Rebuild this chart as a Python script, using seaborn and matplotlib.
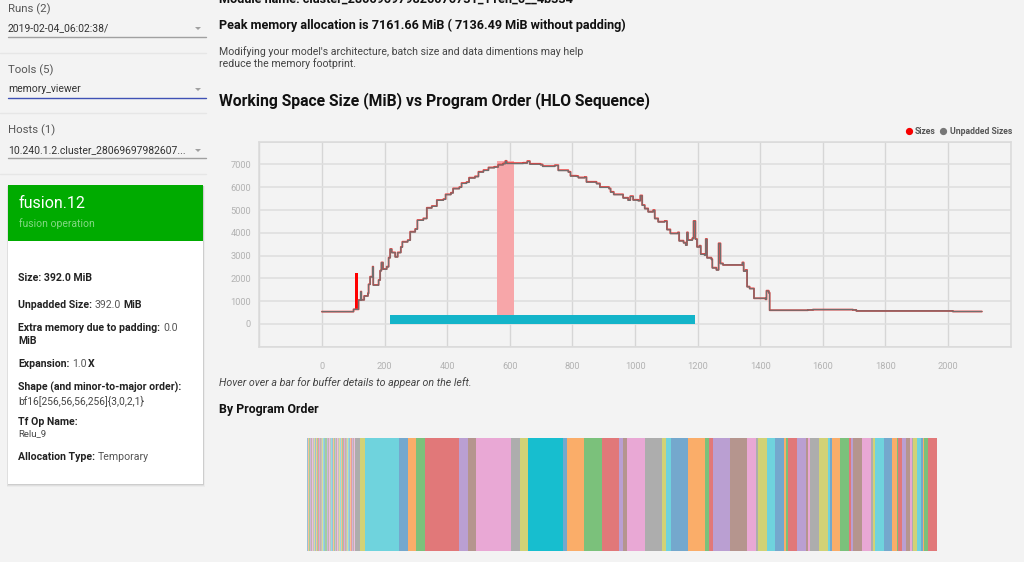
import matplotlib
matplotlib.use("Agg")
import matplotlib.pyplot as plt
from matplotlib.lines import Line2D
from matplotlib.patches import Rectangle, Polygon
import numpy as np
import pandas as pd
import seaborn as sns

# ----------------------------------------------------------
# DATA
# ----------------------------------------------------------
program_order = [
    0, 98, 101, 112, 117, 124, 126, 135, 147, 149, 154, 162,
    164, 181, 186, 190, 195, 207, 213, 218, 223, 234, 242, 252,
    257, 274, 282, 298, 305, 324, 335, 351, 367, 388, 395, 412,
    419, 439, 446, 462, 470, 489, 500, 516, 532, 551, 563, 579,
    586, 590, 643, 656, 664, 698, 705, 744, 755, 787, 794, 813,
    819, 840, 845, 877, 888, 917, 922, 932, 957, 962, 978, 985,
    994, 1010, 1017, 1023, 1031, 1042, 1058, 1063, 1074, 1095, 1102, 1113,
    1137, 1141, 1155, 1162, 1166, 1169, 1183, 1187, 1193, 1198, 1206, 1210,
    1222, 1226, 1230, 1244, 1247, 1260, 1267, 1273, 1281, 1339, 1343, 1347,
    1353, 1358, 1366, 1380, 1417, 1420, 1427, 1430, 1552, 1568, 1696, 1707,
    1930, 2015, 2108,
]
sizes = [
    540, 540, 640, 640, 1050, 1420, 1060, 1230, 1345, 1740, 2075, 2515,
    1710, 1930, 2340, 2700, 2410, 2515, 2910, 3290, 3140, 2950, 3140, 3380,
    3610, 3680, 4050, 4170, 4560, 4635, 5100, 5175, 5440, 5480, 5690, 5760,
    5950, 6010, 6185, 6230, 6420, 6480, 6680, 6755, 6870, 6900, 7000, 7050,
    7161, 7060, 7075, 7150, 7030, 7000, 6930, 6970, 6750, 6680, 6505, 6490,
    6430, 6450, 6240, 6170, 6010, 5950, 5800, 5690, 5690, 5540, 5440, 5610,
    5450, 5420, 5640, 5220, 5070, 4930, 5000, 4635, 4490, 4520, 4150, 3980,
    4020, 3655, 3570, 3465, 4020, 3685, 3760, 4520, 3730, 3390, 3435, 3070,
    3030, 3730, 2910, 2840, 2470, 2380, 3540, 2660, 2590, 2590, 2700, 2325,
    2370, 1640, 1560, 1125, 1080, 1460, 1375, 600, 614, 630, 614, 570,
    570, 545, 545,
]
unpadded_sizes = [
    540, 540, 640, 640, 1040, 1410, 1050, 1220, 1335, 1730, 2062, 2500,
    1698, 1918, 2328, 2688, 2398, 2500, 2895, 3275, 3125, 2935, 3125, 3365,
    3595, 3665, 4035, 4155, 4545, 4620, 5085, 5160, 5425, 5465, 5672, 5742,
    5932, 5992, 6165, 6210, 6400, 6460, 6660, 6735, 6850, 6880, 6978, 7028,
    7136, 7038, 7052, 7128, 7008, 6980, 6910, 6950, 6730, 6660, 6485, 6470,
    6410, 6430, 6220, 6150, 5990, 5930, 5780, 5672, 5672, 5522, 5422, 5592,
    5432, 5402, 5622, 5202, 5052, 4912, 4982, 4618, 4472, 4502, 4132, 3962,
    4002, 3638, 3552, 3448, 4002, 3668, 3742, 4502, 3712, 3372, 3418, 3052,
    3012, 3712, 2892, 2822, 2452, 2362, 3522, 2642, 2590, 2590, 2682, 2308,
    2352, 1625, 1545, 1125, 1080, 1445, 1360, 600, 614, 630, 614, 570,
    570, 545, 545,
]
x_ticks = list(range(-200, 2400, 200))
y_ticks = list(range(-1000, 9000, 1000))

# highlighted buffer (start, end, low, high)
fusion_buffer = [219, 1191, 0, 392]
peak_buffer = [560, 612, 392, 7150]
spike_buffer = [105, 116, 640, 2220]

# widths of the buffers by program order, colours follow tab10 in order
thin_widths = [
    0.7, 1.1, 0.8, 0.6, 1.0, 0.9, 0.7, 1.2, 0.8, 0.6,
    1.0, 0.7, 0.9, 0.8, 1.1, 0.6, 0.8, 1.0, 0.7, 0.9,
    0.8, 0.6, 1.2, 0.9, 0.7, 0.8, 1.0, 0.6, 0.9, 0.8,
    1.1, 0.7, 0.8, 0.6, 1.0, 0.9, 0.7, 0.8, 1.1, 0.6,
    0.9, 0.8, 0.7, 1.0, 0.8, 0.9, 0.6, 1.1, 0.7, 0.8,
    1.0, 0.9, 0.7, 0.8, 0.9, 1.0, 1.0,
]
wide_widths = [
    4.7, 4.7,
    34.3, 8.7, 8.7, 8.7, 34.3, 8.7, 8.3, 34.7, 8.7, 8.7,
    34.3, 4.3, 17.3, 17.3, 17.0, 4.7, 4.0, 17.3, 17.0, 4.7,
    4.3, 17.0, 17.0, 4.3, 4.0, 17.3, 17.0, 8.7, 2.3, 8.3,
    8.7, 8.7, 2.3, 2.0, 8.7, 8.7, 2.0, 2.3, 8.3, 9.0,
    2.0, 2.0, 8.7, 8.7, 2.3, 2.0, 8.3, 9.0, 2.0, 2.3,
    8.7, 8.7, 4.3, 1.0, 4.0, 4.3, 4.3, 2.0, 1.0, 4.0,
    4.3, 2.0, 0.5, 4.3, 8.7,
]
highlight_index = 69

# ----------------------------------------------------------
# PAGE
# ----------------------------------------------------------
sns.set_style("whitegrid")
plt.rcParams["font.family"] = ["Roboto", "DejaVu Sans"]
bg = "#f3f3f3"
W, H = 1024, 562

fig = plt.figure(figsize=(W / 100, H / 100), dpi=100, facecolor=bg)
page = fig.add_axes([0, 0, 1, 1], zorder=0)
page.set_xlim(0, W)
page.set_ylim(H, 0)
page.axis("off")


def rect(x0, y0, x1, y1, color, **kw):
    page.add_patch(Rectangle((x0, y0), x1 - x0, y1 - y0, facecolor=color, edgecolor="none", lw=0, **kw))


def label(x, y, s, size=8, color="#444444", weight="normal", **kw):
    return page.text(x, y, s, fontsize=size, color=color, weight=weight, va="center", **kw)


def mixed(x, y, parts, size=7.6):
    # bold and regular runs on one line
    for s, weight in parts:
        color = "#222222" if weight == "bold" else "#555555"
        t = label(x, y, s, size=size, color=color, weight=weight)
        x = t.get_window_extent(fig.canvas.get_renderer()).x1 + 2.4


# sidebar selectors
selectors = [
    ("Runs (2)", "2019-02-04_06:02:38/", 9, 28, 37, "#a0a0a0", 53),
    ("Tools (5)", "memory_viewer", 70, 89, 97.5, "#3f51b5", 113),
    ("Hosts (1)", "10.240.1.2.cluster_28069697982607...", 130, 150, 158, "#a0a0a0", 174),
]
for title, value, y0, y1, y_line, line_color, y_div in selectors:
    label(8, y0, title, size=8.2, color="#555555")
    label(8, y1, value, size=7.5, color="#333333")
    page.plot([8, 206], [y_line, y_line], color=line_color, lw=1.0)
    page.plot([0, 206], [y_div, y_div], color="#e6e6e6", lw=1.0)
    page.add_patch(Polygon([[195, y1 - 1], [201, y1 - 1], [198, y1 + 2]], color="#a0a0a0", lw=0))

# detail card
for grow, alpha in [(3, 0.03), (2, 0.05), (1, 0.08)]:
    rect(8 - grow * 0.5, 186, 203 + grow * 0.5, 484 + grow, "black", alpha=alpha)
rect(8, 185, 203, 484, "white")
rect(8, 185, 203, 241, "#00ab00")
label(19, 204, "fusion.12", size=11.5, color="white")
label(19, 224, "fusion operation", size=7.5, color="#83d883")

mixed(18.5, 278, [("Size: 392.0 MiB", "bold")])
mixed(18.5, 305, [("Unpadded Size:", "bold"), ("392.0", "normal"), ("MiB", "bold")])
mixed(18.5, 328, [("Extra memory due to padding:", "bold"), ("0.0", "normal")])
mixed(18.5, 341, [("MiB", "bold")])
mixed(18.5, 364, [("Expansion:", "bold"), ("1.0", "normal")])
label(88, 364, "X", size=7.6, color="#222222", weight="bold")
mixed(18.5, 387, [("Shape (and minor-to-major order):", "bold")])
label(18.5, 401, "bf16[256,56,56,256]{3,0,2,1}", size=7.4, color="#444444")
mixed(18.5, 422, [("Tf Op Name:", "bold")])
label(18.5, 434, "Relu_9", size=6.8, color="#444444")
mixed(18.5, 457, [("Allocation Type:", "bold"), ("Temporary", "normal")])

# main column text
label(219, -1, "Module name: cluster_280696979826076731_11en_0__4b334", size=9.07, color="#111111", weight="bold")
label(219, 25, "Peak memory allocation is 7161.66 MiB ( 7136.49 MiB without padding)", size=9.07, color="#111111", weight="bold")
label(219, 52, "Modifying your model's architecture, batch size and data dimentions may help", size=7.6, color="#444444")
label(219, 64, "reduce the memory footprint.", size=7.6, color="#444444")
label(219, 101, "Working Space Size (MiB) vs Program Order (HLO Sequence)", size=11.3, color="#111111", weight="bold")
label(219, 383, "Hover over a bar for buffer details to appear on the left.", size=7.7, color="#444444", style="italic")
label(219, 409, "By Program Order", size=8.9, color="#111111", weight="bold")

# ----------------------------------------------------------
# WORKING SPACE CHART
# ----------------------------------------------------------
ax = fig.add_axes([259.3 / W, 1 - 346.7 / H, (1010.7 - 259.3) / W, (346.7 - 141.7) / H], zorder=1)
ax.patch.set_alpha(0)

df = pd.DataFrame({"order": program_order, "sizes": sizes, "unpadded": unpadded_sizes})

ax.bar(fusion_buffer[0], fusion_buffer[3] - fusion_buffer[2], width=fusion_buffer[1] - fusion_buffer[0],
       bottom=fusion_buffer[2], align="edge", color="#13b4c9", lw=0, zorder=2)
ax.bar(peak_buffer[0], peak_buffer[3] - peak_buffer[2], width=peak_buffer[1] - peak_buffer[0],
       bottom=peak_buffer[2], align="edge", color="#f7a6a9", lw=0, zorder=2)
ax.bar(spike_buffer[0], spike_buffer[3] - spike_buffer[2], width=spike_buffer[1] - spike_buffer[0],
       bottom=spike_buffer[2], align="edge", color="#ff0000", lw=0, zorder=3)

sns.lineplot(data=df, x="order", y="sizes", ax=ax, color="#e8403f", lw=1.3, estimator=None,
             drawstyle="steps-post", snap=False, zorder=4)
sns.lineplot(data=df, x="order", y="unpadded", ax=ax, color="#6f6f6f", lw=0.85, estimator=None,
             drawstyle="steps-post", snap=False, zorder=5)

ax.set_xlim(-200, 2200)
ax.set_ylim(-1000, 8000)
ax.set_xticks(x_ticks)
ax.set_yticks(y_ticks)
ax.set_xticklabels(["" if v in (-200, 2200) else str(v) for v in x_ticks])
ax.set_yticklabels(["" if v in (-1000, 8000) else str(v) for v in y_ticks])
ax.set_xlabel("")
ax.set_ylabel("")
ax.grid(True, axis="y", color="#dedede", lw=1.1)
ax.grid(True, axis="x", color="#d6d6d6", lw=1.0)
ax.set_axisbelow(True)
ax.tick_params(axis="both", length=3, width=1.0, color="#d6d6d6", labelcolor="#b2b2b2", labelsize=6.7)
ax.tick_params(axis="y", length=0, pad=6)
ax.tick_params(axis="x", pad=8)
for name, spine in ax.spines.items():
    spine.set_color("#dadada")
    spine.set_linewidth(1.1)

handles = [
    Line2D([], [], ls="", marker="o", ms=4.2, color="#f70000", label="Sizes"),
    Line2D([], [], ls="", marker="o", ms=4.2, color="#777777", label="Unpadded Sizes"),
]
ax.legend(handles=handles, ncol=2, frameon=False, loc="lower right", bbox_to_anchor=(1.002, 1.027),
          borderaxespad=0, borderpad=0, handlelength=0.8, handletextpad=0.35, columnspacing=0.45,
          prop={"size": 6.2, "weight": "bold", "family": "Roboto"}, labelcolor="#555555")

# ----------------------------------------------------------
# BY PROGRAM ORDER STRIP
# ----------------------------------------------------------
strip = fig.add_axes([307 / W, 1 - 551 / H, (937 - 307) / W, (551 - 438) / H], zorder=1)
palette = sns.color_palette("tab10")
order_widths = thin_widths + wide_widths
left = np.concatenate([[0], np.cumsum(order_widths)[:-1]])
for i, (start, width) in enumerate(zip(left, order_widths)):
    if i == highlight_index:
        alpha = 1.0
    elif i < len(thin_widths):
        alpha = 0.42
    else:
        alpha = 0.6
    strip.barh(0, width, left=start, height=1, color=palette[i % 10], alpha=alpha, lw=0)
strip.set_xlim(0, sum(order_widths))
strip.set_ylim(-0.5, 0.5)
strip.axis("off")

fig.savefig("out.png", dpi=100, facecolor=bg)
